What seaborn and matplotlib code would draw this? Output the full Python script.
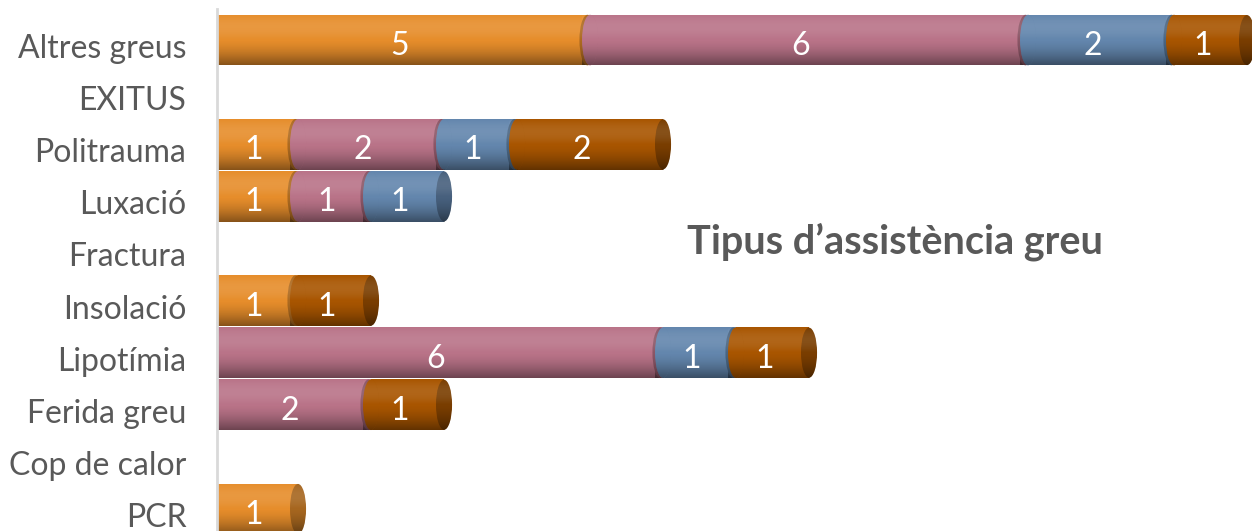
import numpy as np
import pandas as pd
import matplotlib
matplotlib.use("Agg")
import matplotlib.pyplot as plt
import matplotlib.transforms as mtransforms
from matplotlib.patches import Ellipse, Rectangle
from matplotlib.colors import to_rgb
import seaborn as sns

categories = ["Altres greus", "EXITUS", "Politrauma", "Luxació", "Fractura",
              "Insolació", "Lipotímia", "Ferida greu", "Cop de calor", "PCR"]
serie_a = [5, 0, 1, 1, 0, 1, 0, 0, 0, 1]
serie_b = [6, 0, 2, 1, 0, 0, 6, 2, 0, 0]
serie_c = [2, 0, 1, 1, 0, 0, 1, 0, 0, 0]
serie_d = [1, 0, 2, 0, 0, 1, 1, 1, 0, 0]
series_colors = ["#E68D2B", "#B97388", "#6386AD", "#A85500"]
title = "Tipus d\u2019assistència greu"

sns.set_theme(style="white")
plt.rcParams['font.family'] = ['Lato', 'DejaVu Sans']

W, H, DPI = 1252, 531, 100
fig = plt.figure(figsize=(W / DPI, H / DPI), dpi=DPI)
ax = fig.add_axes([217 / W, 0, 1 - 217 / W, 1])

series = np.array([serie_a, serie_b, serie_c, serie_d], dtype=float)
cum = np.cumsum(series, axis=0)
BH = 0.97      # bar thickness (category units)
SH = 0.11      # perspective shift of the cylinder ends (x units)
EW = 0.22      # ellipse width (x units)

df = pd.DataFrame({"cat": categories})
for i in range(3, -1, -1):
    df["v"] = cum[i]
    sns.barplot(data=df, y="cat", x="v", orient="h", color=series_colors[i],
                width=BH, saturation=1, ax=ax, edgecolor="none", linewidth=0)
for p in ax.patches:
    p.set_zorder(1)

# shading gradient (cylinder look)
n = 160
t = np.linspace(0, 1, n)
grad = np.zeros((n, 1, 4))
top = t < 0.5
grad[top, 0, :3] = 1.0
grad[top, 0, 3] = 0.10 * np.sin(np.pi * t[top] / 0.5)
bot = t >= 0.5
grad[bot, 0, :3] = 0.0
grad[bot, 0, 3] = 0.42 * ((t[bot] - 0.5) / 0.5) ** 1.5


def shade(x0, x1, yc, z, clip=None):
    im = ax.imshow(grad, extent=(x0, x1, yc + BH / 2, yc - BH / 2), origin="upper",
                   aspect="auto", interpolation="bilinear", zorder=z)
    if clip is not None:
        im.set_clip_path(clip)


def darker(col, f=0.72):
    return tuple(c * f for c in to_rgb(col))


for r in range(len(categories)):
    left = 0.0
    nz = [k for k in range(4) if series[k, r] > 0]
    for j, k in enumerate(nz):
        col = series_colors[k]
        v = series[k, r]
        last = j == len(nz) - 1
        # cylinder body continues a little past the boundary (hidden by next cap)
        ext = Rectangle((left + v, r - BH / 2), SH, BH, facecolor=col,
                        edgecolor="none", zorder=1.5)
        ax.add_patch(ext)
        shade(left, left + v + SH, r, 2)
        if j > 0:
            prev = series_colors[nz[j - 1]]
            rim = Ellipse((left + SH - 0.035, r), EW, BH, facecolor=darker(prev, 0.75),
                          edgecolor="none", zorder=2.6)
            ax.add_patch(rim)
            shade(left - 0.05, left + 2 * SH, r, 2.7, rim)
            e = Ellipse((left + SH, r), EW, BH, facecolor=col,
                        edgecolor="none", zorder=3)
            ax.add_patch(e)
            shade(left, left + 2 * SH, r, 3.5, e)
        if last:
            f = Ellipse((left + v + SH, r), EW, BH * 0.99, facecolor=darker(col),
                        edgecolor="none", zorder=4)
            ax.add_patch(f)
            shade(left + v, left + v + 2 * SH, r, 4.5, f)
        left += v

# value labels
off = mtransforms.ScaledTranslation(0, -6 / DPI, fig.dpi_scale_trans)
for r in range(len(categories)):
    left = 0.0
    for k in range(4):
        v = series[k, r]
        if v > 0:
            ax.text(left + v / 2, r, f"{int(v)}", ha="center", va="center",
                    color="white", fontsize=23, zorder=10,
                    transform=ax.transData + off)
        left += v

ax.set_xlim(0, (W - 217) / 73.0)
ax.set_ylim(-0.769 + H / 52.1, -0.769)
ax.set_xticks([])
ax.set_xlabel("")
ax.set_ylabel("")
ax.set_yticks(range(len(categories)))
ax.set_yticklabels(categories, fontsize=23, color="#595959")
ax.tick_params(axis="y", length=0, pad=22)
for lbl in ax.get_yticklabels():
    lbl.set_transform(lbl.get_transform() + off)

for s in ["top", "right", "bottom"]:
    ax.spines[s].set_visible(False)
ax.spines["left"].set_color("#D9D9D9")
ax.spines["left"].set_linewidth(2)
ax.spines["left"].set_bounds(-0.6, 10)

fig.text(895 / W, 1 - 242 / H, title, ha="center", va="center",
         fontsize=28.5, fontweight="bold", color="#595959")

fig.savefig("out.png", dpi=DPI)
